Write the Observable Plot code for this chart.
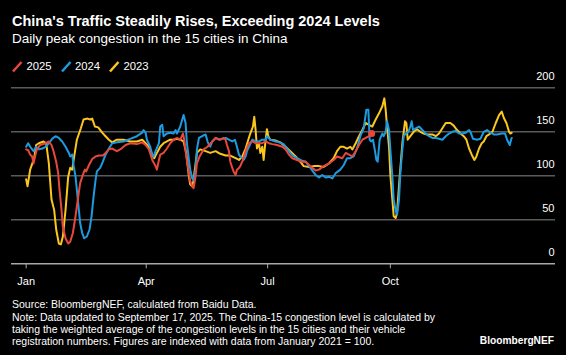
<!DOCTYPE html>
<html><head><meta charset="utf-8">
<script src="https://cdn.jsdelivr.net/npm/d3@7"></script>
<script src="https://cdn.jsdelivr.net/npm/@observablehq/plot@0.6"></script>
<style>
html,body{margin:0;padding:0;background:#000;}
body{width:566px;height:355px;position:relative;overflow:hidden;font-family:"Liberation Sans",Arial,sans-serif;color:#fff;}
.t{position:absolute;white-space:nowrap;}
#title{left:12px;top:13.7px;font-weight:bold;font-size:14.5px;line-height:14.5px;}
#subtitle{left:12px;top:31.9px;font-size:13.5px;line-height:13.5px;}
.leg{position:absolute;top:61px;height:12px;font-size:11.3px;line-height:11.3px;white-space:nowrap;}
.leg svg{position:absolute;left:0;top:0;}
.leg span{position:absolute;left:14.4px;top:0.4px;}
#chart{position:absolute;left:0;top:62px;}
#source{left:12px;top:299.4px;font-size:10.5px;line-height:10.5px;}
#note{left:12px;top:311.1px;font-size:10.5px;line-height:12px;}
#brand{right:12px;top:335.7px;font-size:10.2px;line-height:10.2px;font-weight:bold;}
</style>
</head>
<body>
<div id="title" class="t">China's Traffic Steadily Rises, Exceeding 2024 Levels</div>
<div id="subtitle" class="t">Daily peak congestion in the 15 cities in China</div>
<div id="chart"></div>
<div id="legend"></div>
<div id="source" class="t">Source: BloombergNEF, calculated from Baidu Data.</div>
<div id="note" class="t">Note: Data updated to September 17, 2025. The China-15 congestion level is calculated by<br>taking the weighted average of the congestion levels in the 15 cities and their vehicle<br>registration numbers. Figures are indexed with data from January 2021 = 100.</div>
<div id="brand" class="t">BloombergNEF</div>
<script>
// Series names and colours
const seriesNames = ["2025", "2024", "2023"];
const seriesColors = ["#e8473c", "#1c9be0", "#fbc61d"];

// x tick labels (day of year, 0 = Jan 1)
const monthTicks = [0, 90, 181, 273];
const monthLabels = ["Jan", "Apr", "Jul", "Oct"];
const yTicks = [0, 50, 100, 150, 200];

// 2023
const days2023 = [0,1,3,6,7.5,9.5,13,15,17,19,
  21,22.5,24.5,26,27.5,29.5,31.5,33,34.5,36,
  38,41,43,46,48,49.5,51.5,54,57,59.5,
  62,64.5,68,73,78,83,87,89.5,92,94.5,
  96,98,100.5,103,105.5,108,110.5,113,115.5,118,
  120,122,123,124.5,125.5,127,128,130.5,134.5,138,
  142,145.5,149.5,153,157,159.5,162,164.5,166.5,168,
  170,171,172,173,174.5,175.5,177,178,179.5,180.5,
  181.5,183,187,190.5,194.5,198,202,205.5,208,212,
  215.5,219.5,223,227,230.5,233,235.5,238,240.5,243,
  244.5,247,249.5,252,254.5,257,259.5,262,264.5,267,
  268.5,269.5,270.5,272,273,274.5,275.5,277,278,280,
  282,284,285,286,288,290.5,293,295.5,298,300.5,
  304.5,307,309.5,312,314.5,318,320.5,323,325.5,328,
  330,332,334,336,337.5,339.5,341.5,343,345,347,
  349.5,352,354.5,356.5,358,360,362,363,364];
const vals2023 = [96,88,107,120,135,137,139,137,114,73,
  61,39,23,22,31,61,99,109,107,122,
  141,154,164,165,164,165,156,155,149,145,
  141,138,141,141,139,139,141,137,133,124,
  120,126,133,137,139,141,141,142,141,139,
  126,99,90,88,95,114,126,130,128,126,
  128,125,123,123,120,118,122,131,141,148,
  156,167,152,131,137,126,133,118,141,153,
  145,141,140,138,133,128,122,116,111,110,
  111,111,110,114,120,128,133,133,131,133,
  130,137,145,152,160,158,156,164,171,179,
  188,175,156,133,101,73,54,52,58,99,
  137,162,160,141,145,150,153,150,148,147,
  147,145,148,154,160,160,157,152,148,145,
  141,131,124,118,122,131,137,139,145,147,
  150,160,169,173,166,160,150,148,149];

// 2024
const days2024 = [0,1.5,3,5.5,7.5,9.5,12,14.5,17,19.5,
  22,24.5,27,29.5,32,33,34.5,35.5,37,38,
  39.5,40.5,42,43.5,45.5,47.5,49,50.5,52,53,
  55.5,57.5,59.5,62,64.5,68,73,78,83,87,
  88,89.5,90.5,93,94.5,95.5,97,99.5,100.5,102,
  103,104.5,105.5,108,110.5,112,113,115.5,117,118,
  119.5,120.5,122,123,124.5,125.5,127,128,129.5,132,
  134.5,136,137,138,139.5,142,144.5,149.5,152,154.5,
  156.5,158,159.5,160.5,162,163,164.5,165.5,167,169.5,
  172,174.5,177,179.5,180.5,183,187,189.5,193,195.5,
  198,200.5,204.5,207,209.5,213,217,219.5,222,224.5,
  227,229.5,232,235.5,238,240.5,243,245.5,248,250.5,
  253,255,256.5,257.5,258.5,260,261.5,262.5,263.5,265,
  267,268,269.5,270.5,272,273,274.5,275.5,277,278,
  279.5,280.5,282,283,284.5,286.5,288,289,290,292,
  294.5,297,299.5,302,304.5,307,309.5,312,314.5,317,
  319.5,322,324.5,327,329.5,332,333,335,338,340.5,
  343,345.5,348,350.5,353,356.5,359,360.5,362.5,363.5,
  364];
const vals2024 = [133,137,133,128,133,130,131,133,137,142,
  145,143,139,133,126,122,124,112,99,84,
  61,46,35,29,31,39,54,76,95,105,
  109,116,124,131,137,138,139,142,145,149,
  152,149,141,133,124,122,128,137,156,158,
  145,147,148,149,148,152,148,156,164,169,
  160,137,118,107,97,95,107,130,143,145,
  147,139,135,133,139,143,141,143,141,139,
  141,133,124,122,120,118,122,128,133,141,
  139,139,141,141,145,141,139,138,136,131,
  126,122,119,117,116,109,101,98,101,98,
  99,97,103,107,112,120,120,122,131,145,
  154,175,175,141,139,141,128,118,116,141,
  148,145,150,162,152,130,99,73,60,56,
  73,103,130,145,148,150,156,162,152,154,
  156,152,148,145,143,143,142,141,145,148,
  150,151,148,148,149,152,150,142,141,142,
  150,152,149,147,147,148,148,141,135,141,
  143];

// 2025 (to September 17)
const days2025 = [0,1.5,3,4.5,5.5,7,8,10.5,14.5,17,
  19,20.5,22.5,24,25,26.5,27.5,29.5,31.5,33,
  35,37,39,40.5,42.5,44,45,47,49.5,52,
  54.5,57.5,59.5,62,64.5,68,70.5,74.5,78,83,
  87,89.5,92,94.5,97,98,99.5,100.5,103,105.5,
  108,110.5,113,115.5,117.5,118.5,120,122,123,124.5,
  125.5,127,128,130,133,136,139.5,142,145.5,148,
  149.5,150.5,152,153,154.5,155.5,157,158,159.5,160.5,
  162.5,164.5,167,169.5,172,177,179.5,182,184.5,188,
  192,194.5,197,199.5,203,207,209.5,213,217,219.5,
  223,227,230.5,233,237,239.5,242,244.5,247,249.5,
  252,254.5,257,259];
const vals2025 = [130,129,124,122,114,124,130,135,137,139,
  135,128,116,103,84,61,42,29,23,25,
  35,54,76,92,101,107,105,112,119,122,
  123,123,126,130,131,128,130,135,137,136,
  138,135,130,118,111,107,118,124,126,131,
  137,141,143,141,148,141,122,103,94,88,
  86,99,114,122,130,133,139,143,141,143,
  141,135,128,116,109,105,101,107,109,111,
  118,128,137,139,137,137,139,137,136,135,
  133,130,124,120,118,116,116,111,106,107,
  111,114,118,122,120,126,124,122,128,135,
  141,143,145,148];

const toRows = (ds, vs) => ds.map((d, i) => ({d, v: vs[i]}));
const rows2023 = toRows(days2023, vals2023);
const rows2024 = toRows(days2024, vals2024);
const rows2025 = toRows(days2025, vals2025);

// Legend
const legend = document.getElementById("legend");
const legLefts = [12, 60.6, 109];
seriesNames.forEach((name, i) => {
  const el = document.createElement("div");
  el.className = "leg";
  el.style.left = legLefts[i] + "px";
  el.innerHTML = `<svg width="11" height="12"><line x1="1" y1="10.5" x2="9.5" y2="1" stroke="${seriesColors[i]}" stroke-width="2.5"/></svg><span>${name}</span>`;
  legend.appendChild(el);
});

const chart = Plot.plot({
  width: 566,
  height: 230,
  marginLeft: 11,
  marginRight: 11,
  marginTop: 25.3,
  marginBottom: 28.7,
  style: {background: "transparent", color: "#fff", fontFamily: "'Liberation Sans', Arial, sans-serif", fontSize: "11px"},
  x: {domain: [-11, 396.8], axis: null},
  y: {domain: [0, 200], axis: null},
  marks: [
    Plot.ruleY(yTicks.filter(t => t > 0), {stroke: "#5a5a5a", strokeWidth: 1.5}),
    Plot.ruleY([0], {stroke: "#a8a8a8", strokeWidth: 1.5}),
    Plot.axisX(monthTicks, {tickFormat: d => monthLabels[monthTicks.indexOf(d)], tickSize: 5, tickPadding: 8, stroke: "#a8a8a8", fill: "#fff", fontSize: 11, label: null}),
    Plot.text(yTicks, {x: 396.8, y: d => d, text: d => String(d), textAnchor: "end", dx: -1, dy: -11, fill: "#fff", fontSize: 11}),
    Plot.line(rows2023, {x: "d", y: "v", stroke: seriesColors[2], strokeWidth: 2}),
    Plot.line(rows2024, {x: "d", y: "v", stroke: seriesColors[1], strokeWidth: 2}),
    Plot.line(rows2025, {x: "d", y: "v", stroke: seriesColors[0], strokeWidth: 2}),
    Plot.dot(rows2025.slice(-1), {x: "d", y: "v", r: 3.5, fill: seriesColors[0]})
  ]
});
document.getElementById("chart").appendChild(chart);
</script>
</body></html>
